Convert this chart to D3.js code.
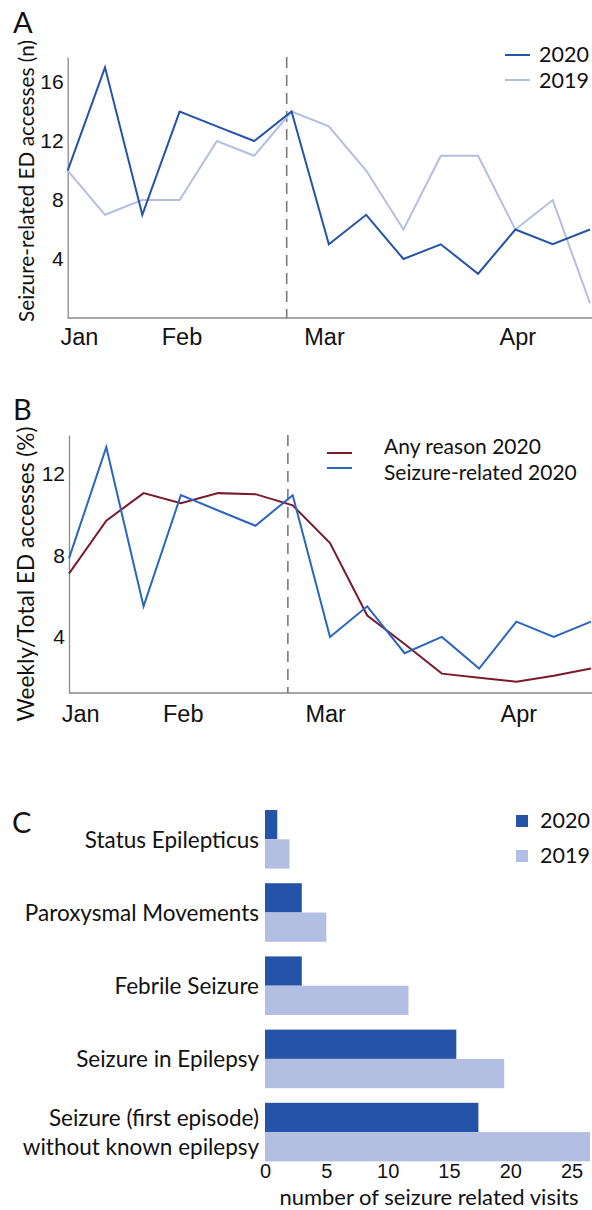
<!DOCTYPE html>
<html>
<head>
<meta charset="utf-8">
<script src="https://cdn.jsdelivr.net/npm/d3@7"></script>
<style>
  body { margin: 0; background: #fff; }
  svg { display: block; font-family: Lato, "Open Sans", sans-serif; }
  .axis path { stroke: #8a8a8a; stroke-width: 1.3; }
  .axis text { fill: #111; }
</style>
</head>
<body>
<div id="chart"></div>
<script>
"use strict";

// weekly values, Jan -> Apr (15 weeks)
var monthLabels = ["Jan", "Feb", "Mar", "Apr"];
var monthPos = [0.3, 3.05, 6.87, 12.05];   // in week units
var lockdownWeek = 5.87;

var seizures2020 = [10, 17, 7, 14, 13, 12, 14, 5, 7, 4, 5, 3, 6, 5, 6];
var seizures2019 = [10, 7, 8, 8, 12, 11, 14, 13, 10, 6, 11, 11, 6, 8, 1];
var countTicks = [4, 8, 12, 16];

var anyReasonPct2020 = [7.1, 9.7, 11.05, 10.55, 11.05, 11.0, 10.45, 8.6, 5.05, 3.65, 2.2, 2.0, 1.8, 2.1, 2.45];
var seizurePct2020 = [7.85, 13.3, 5.5, 10.95, 10.2, 9.45, 10.95, 4.0, 5.5, 3.2, 4.0, 2.45, 4.75, 4.0, 4.75];
var pctTicks = [4, 8, 12];

// panel C
var categories = [
  ["Status Epilepticus"],
  ["Paroxysmal Movements"],
  ["Febrile Seizure"],
  ["Seizure in Epilepsy"],
  ["Seizure (first episode)", "without known epilepsy"]
];
var visits2020 = [1, 3, 3, 15.6, 17.4];
var visits2019 = [2, 5, 11.7, 19.5, 26.5];
var visitTicks = [0, 5, 10, 15, 20, 25];

var col2020 = "#2553a7", col2019 = "#b3bfe2";
var colSeizB = "#2c65bf", colAny = "#7a1a2e";

var svg = d3.select("#chart").append("svg")
  .attr("width", 592).attr("height", 1210);

function panelLetter(txt, x, y) {
  svg.append("text").attr("x", x).attr("y", y)
    .style("font-size", "29px").attr("fill", "#111").text(txt);
}

function drawLines(g, x, y, values, color) {
  var line = d3.line()
    .x(function(d, i) { return x(i); })
    .y(function(d) { return y(d); });
  g.append("path").datum(values)
    .attr("d", line)
    .attr("fill", "none")
    .attr("stroke", color)
    .attr("stroke-width", 2)
    .attr("stroke-linejoin", "miter");
}

function drawTimeAxes(x, y, ticks, yTitle, titleX, titleY, titleSize, monthPad) {
  svg.append("g").attr("class", "axis")
    .attr("transform", "translate(0," + y.range()[0] + ")")
    .call(d3.axisBottom(x).tickValues(monthPos).tickSize(0).tickPadding(monthPad)
      .tickFormat(function(d, i) { return monthLabels[i]; }))
    .call(function(g) {
      g.select(".domain").attr("d", "M" + x.range()[0] + ",0H592");
      g.selectAll("text").style("font-size", "23.5px");
    });

  svg.append("g").attr("class", "axis")
    .attr("transform", "translate(" + x.range()[0] + ",0)")
    .call(d3.axisLeft(y).tickValues(ticks).tickSize(0).tickPadding(4))
    .call(function(g) { g.selectAll("text").style("font-size", "21px"); });

  svg.append("text")
    .attr("transform", "translate(" + titleX + "," + titleY + ") rotate(-90)")
    .attr("text-anchor", "middle")
    .attr("dominant-baseline", "central")
    .style("font-size", titleSize).attr("fill", "#111")
    .text(yTitle);

  svg.append("line")
    .attr("x1", x(lockdownWeek)).attr("x2", x(lockdownWeek))
    .attr("y1", y.range()[1]).attr("y2", y.range()[0])
    .attr("stroke", "#7a7a7a").attr("stroke-width", 1.6)
    .attr("stroke-dasharray", "11,7");
}

function legendLine(x, yLine, yText, color, label, tx, size) {
  svg.append("line").attr("x1", x).attr("x2", x + 25)
    .attr("y1", yLine).attr("y2", yLine)
    .attr("stroke", color).attr("stroke-width", 2);
  svg.append("text").attr("x", tx).attr("y", yText)
    .attr("dominant-baseline", "central")
    .style("font-size", size).attr("fill", "#111").text(label);
}

// ---- A ----
function panelA() {
  var x = d3.scaleLinear().domain([0, 14]).range([67.7, 590]);
  var y = d3.scaleLinear().domain([0, 17.7]).range([318, 57]);
  panelLetter("A", 13, 33);
  drawTimeAxes(x, y, countTicks, "Seizure-related ED accesses (n)", 25, 181, "20.8px", 10);
  var g = svg.append("g");
  drawLines(g, x, y, seizures2019, col2019);
  drawLines(g, x, y, seizures2020, col2020);
  legendLine(505, 55, 54, col2020, "2020", 539, "21.5px");
  legendLine(505, 80, 80, col2019, "2019", 539, "21.5px");
}

// ---- B ----
function panelB() {
  var x = d3.scaleLinear().domain([0, 14]).range([69, 591]);
  var y = d3.scaleLinear().domain([1.25, 13.9]).range([693, 435]);
  panelLetter("B", 13, 420);
  drawTimeAxes(x, y, pctTicks, "Weekly/Total ED accesses (%)", 25, 574, "22.6px", 12);
  var g = svg.append("g");
  drawLines(g, x, y, anyReasonPct2020, colAny);
  drawLines(g, x, y, seizurePct2020, colSeizB);
  legendLine(327, 453, 445, colAny, "Any reason 2020", 384, "21px");
  legendLine(327, 468, 471, colSeizB, "Seizure-related 2020", 384, "21px");
}

// ---- C ----
function panelC() {
  var x = d3.scaleLinear().domain([0, 26.5]).range([265, 590]);
  var y = d3.scaleBand().domain(d3.range(categories.length))
    .range([802.7, 1168.7]).paddingInner(0.2).paddingOuter(0.1);
  var sub = d3.scaleBand().domain(["2020", "2019"]).range([0, y.bandwidth()]);

  panelLetter("C", 12, 833);

  var rows = svg.selectAll(".row").data(categories).enter()
    .append("g").attr("class", "row")
    .attr("transform", function(d, i) { return "translate(0," + y(i) + ")"; });

  rows.append("rect")
    .attr("x", x(0)).attr("y", sub("2020"))
    .attr("width", function(d, i) { return x(visits2020[i]) - x(0); })
    .attr("height", sub.bandwidth())
    .attr("fill", col2020);
  rows.append("rect")
    .attr("x", x(0)).attr("y", sub("2019"))
    .attr("width", function(d, i) { return x(visits2019[i]) - x(0); })
    .attr("height", sub.bandwidth())
    .attr("fill", col2019);

  rows.each(function(lines) {
    var n = lines.length;
    var t = d3.select(this).append("text")
      .attr("text-anchor", "end")
      .style("font-size", "22.5px").attr("fill", "#111");
    lines.forEach(function(s, k) {
      t.append("tspan").attr("x", 259)
        .attr("y", y.bandwidth() / 2 + (k - (n - 1) / 2) * 28.7)
        .attr("dominant-baseline", "central")
        .text(s);
    });
  });

  svg.append("g").attr("class", "axis")
    .attr("transform", "translate(0,1159)")
    .call(d3.axisBottom(x).tickValues(visitTicks).tickSize(0).tickPadding(5))
    .call(function(g) {
      g.select(".domain").remove();
      g.selectAll("text").style("font-size", "20px");
    });

  svg.append("text").attr("x", 429).attr("y", 1196.5)
    .attr("text-anchor", "middle").attr("dominant-baseline", "central")
    .style("font-size", "22px").attr("fill", "#111")
    .text("number of seizure related visits");

  [["2020", col2020, 821], ["2019", col2019, 856]].forEach(function(d) {
    svg.append("rect").attr("x", 516).attr("y", d[2] - 6)
      .attr("width", 12).attr("height", 12).attr("fill", d[1]);
    svg.append("text").attr("x", 540).attr("y", d[2] - 1)
      .attr("dominant-baseline", "central")
      .style("font-size", "21.5px").attr("fill", "#111").text(d[0]);
  });
}

panelA();
panelB();
panelC();
</script>
</body>
</html>
